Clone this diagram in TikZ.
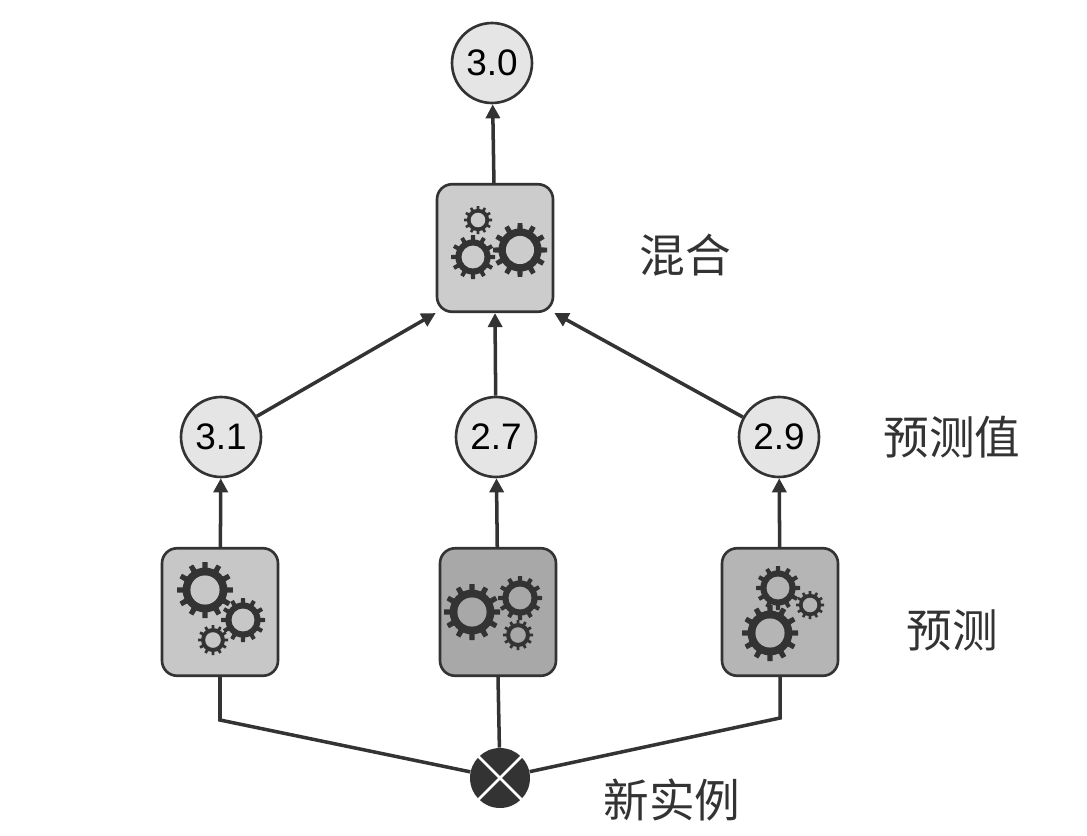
\documentclass[tikz,border=0pt]{standalone}
\usepackage{fontspec}
\setmainfont{Liberation Sans}
\newfontfamily\cjk{Noto Sans CJK SC}
\usetikzlibrary{arrows.meta}
\definecolor{dk}{HTML}{333333}
\tikzset{
  val/.style={circle,draw=dk,line width=1.5pt,fill=black!10,minimum size=1.6cm,inner sep=0pt,font=\fontsize{21}{24}\selectfont},
  mbox/.style={rounded corners=0.3cm,draw=dk,line width=1.5pt,minimum width=2.32cm,minimum height=2.55cm},
  lab/.style={font=\cjk\fontsize{26}{30}\selectfont,text=dk},
  conn/.style={dk,line width=2pt},
  arr/.style={conn,-{Triangle[length=8pt,width=8pt]}},
  pics/gear/.style args={#1/#2}{code={
    \fill[dk] (0,0) circle (0.8*#1);
    \foreach \a in {0,30,...,330}{\fill[dk,rotate=\a] (-0.12*#1,0) -- (-0.09*#1,#1) -- (0.09*#1,#1) -- (0.12*#1,0) -- cycle;}
    \fill[#2] (0,0) circle (0.52*#1);
  }}
}
\begin{document}
\begin{tikzpicture}[x=0.02cm,y=-0.02cm]
\useasboundingbox (0,0) rectangle (1087,835);
\node[val] (top) at (492,63) {3.0};
\node[mbox,fill=black!20] (blend) at (495,248) {};
\node[val] (v1) at (221,437) {3.1};
\node[val] (v2) at (496,437) {2.7};
\node[val] (v3) at (779,437) {2.9};
\node[mbox,fill=black!22] (p1) at (220,612) {};
\node[mbox,fill=black!34] (p2) at (498,612) {};
\node[mbox,fill=black!29] (p3) at (780,612) {};
\node[circle,fill=dk,minimum size=1.2cm,inner sep=0pt] (x) at (500,778) {};
\draw[white,line width=1.5pt] (x.45) -- (x.225) (x.135) -- (x.315);
% gears
\pic at (478,220) {gear=0.28cm/black!20};
\pic at (473,257) {gear=0.44cm/black!20};
\pic at (520,250) {gear=0.54cm/black!20};
\pic at (205,590) {gear=0.56cm/black!22};
\pic at (243,620) {gear=0.44cm/black!22};
\pic at (213,640) {gear=0.30cm/black!22};
\pic at (472,612) {gear=0.56cm/black!34};
\pic at (520,598) {gear=0.44cm/black!34};
\pic at (518,635) {gear=0.30cm/black!34};
\pic at (778,588) {gear=0.44cm/black!29};
\pic at (810,605) {gear=0.28cm/black!29};
\pic at (770,633) {gear=0.56cm/black!29};
% connectors
\coordinate (c1) at (220,720);
\coordinate (c3) at (780,718);
\draw[conn] (p1.south) -- (c1) -- (x);
\draw[conn] (p3.south) -- (c3) -- (x);
\draw[conn] (p2.south) -- (x);
\draw[arr] (p1) -- (v1);
\draw[arr] (p2) -- (v2);
\draw[arr] (p3) -- (v3);
\draw[arr] (v1) -- (blend.south west);
\draw[arr] (v2) -- (blend.south);
\draw[arr] (v3) -- (blend.south east);
\draw[arr] (blend) -- (top);
\node[lab] (l1) at (685,255) {混合};
\node[lab] (l2) at (952,437) {预测值};
\node[lab] (l3) at (952,630) {预测};
\node[lab] (l4) at (672,800) {新实例};
\end{tikzpicture}
\end{document}
